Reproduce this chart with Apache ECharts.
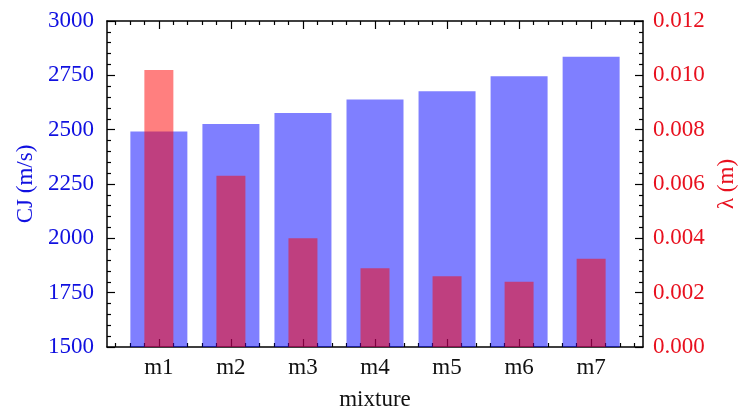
<!DOCTYPE html>
<html>
<head>
<meta charset="utf-8">
<script src="https://cdn.jsdelivr.net/npm/echarts@6/dist/echarts.min.js"></script>
<style>html,body{margin:0;padding:0;background:#fff;}#c{width:739px;height:407px;}</style>
</head>
<body>
<div id="c"></div>
<script>
const categories = ['m1', 'm2', 'm3', 'm4', 'm5', 'm6', 'm7'];
const cjValues = [2492, 2526, 2577, 2639, 2677, 2746, 2836];
const lambdaValues = [0.0102, 0.0063, 0.0040, 0.0029, 0.0026, 0.0024, 0.00325];
const cjTicks = [1500, 1750, 2000, 2250, 2500, 2750, 3000];
const lambdaTicks = [0.000, 0.002, 0.004, 0.006, 0.008, 0.010, 0.012];

const FONT = 'Liberation Serif';
const FS = 23;
const xMin = 0.28, xMax = 7.72;
const majorX = categories.map((c, i) => i + 1);
const minorX = [];
for (let k = 2; k <= 38; k++) { if (k % 5 !== 0) minorX.push(+(k * 0.2).toFixed(2)); }

const chart = echarts.init(document.getElementById('c'));
const lineStyle = { color: '#000', width: 1.5 };
function xAx(pos, major, labels) {
  return {
    type: 'value', position: pos, min: xMin, max: xMax,
    axisLine: { show: major, onZero: false, lineStyle },
    splitLine: { show: false },
    axisTick: { show: true, inside: true, length: major ? 8 : 4, lineStyle: { color: '#000', width: 1.2 },
      customValues: major ? majorX : minorX },
    axisLabel: labels ? {
      show: true, customValues: majorX, margin: 9,
      formatter: v => categories[Math.round(v) - 1] || '',
      fontFamily: FONT, fontSize: FS, color: '#111'
    } : { show: false },
    name: labels ? 'mixture' : '', nameLocation: 'middle', nameGap: 41,
    nameTextStyle: { fontFamily: FONT, fontSize: FS, color: '#111' }
  };
}
chart.setOption({
  animation: false,
  grid: { left: 107, right: 96, top: 21, bottom: 60, containLabel: false, outerBoundsMode: 'none' },
  xAxis: [xAx('bottom', true, true), xAx('top', true, false), xAx('bottom', false, false), xAx('top', false, false)],
  yAxis: [
    {
      type: 'value', position: 'left', min: cjTicks[0], max: cjTicks[cjTicks.length - 1], interval: 250,
      axisLine: { show: true, lineStyle },
      splitLine: { show: false },
      axisTick: { show: true, inside: true, length: 8, lineStyle: { color: '#000', width: 1.2 } },
      minorTick: { show: true, splitNumber: 5, length: 4, lineStyle: { color: '#000', width: 1.2 } },
      axisLabel: { margin: 13, fontFamily: FONT, fontSize: FS, color: '#1010e0', formatter: v => String(v) },
      name: 'CJ (m/s)', nameLocation: 'middle', nameGap: 70, nameRotate: 90,
      nameTextStyle: { fontFamily: FONT, fontSize: FS, color: '#1010e0' }
    },
    {
      type: 'value', position: 'right', min: lambdaTicks[0], max: lambdaTicks[lambdaTicks.length - 1], interval: 0.002,
      axisLine: { show: true, lineStyle },
      splitLine: { show: false },
      axisTick: { show: true, inside: true, length: 8, lineStyle: { color: '#000', width: 1.2 } },
      minorTick: { show: true, splitNumber: 5, length: 4, lineStyle: { color: '#000', width: 1.2 } },
      axisLabel: { margin: 10, fontFamily: FONT, fontSize: FS, color: '#e8101e', formatter: v => v.toFixed(3) },
      name: 'λ (m)', nameLocation: 'middle', nameGap: 70, nameRotate: 90,
      nameTextStyle: { fontFamily: FONT, fontSize: FS, color: '#e8101e' }
    }
  ],
  series: [
    {
      type: 'bar', xAxisIndex: 0, yAxisIndex: 0, barWidth: 57,
      data: cjValues.map((v, i) => [i + 1, v]),
      itemStyle: { color: 'rgba(0,0,255,0.5)' }, z: 2
    },
    {
      type: 'bar', xAxisIndex: 1, yAxisIndex: 1, barWidth: 29,
      data: lambdaValues.map((v, i) => [i + 1, v]),
      itemStyle: { color: 'rgba(255,0,0,0.5)' }, z: 3
    }
  ]
});
</script>
</body>
</html>
